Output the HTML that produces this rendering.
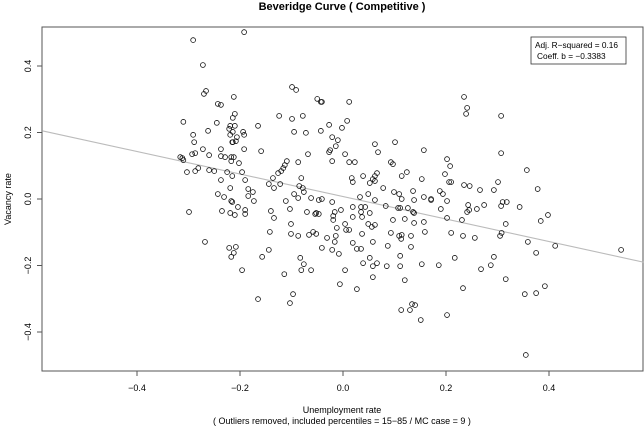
<!DOCTYPE html>
<html><head><meta charset="utf-8"><style>
html,body{margin:0;padding:0;background:#fff}
svg{display:block;font-family:"Liberation Sans",Arial,sans-serif}
</style></head><body>
<svg id="chart" width="644" height="427" viewBox="0 0 644 427">
<text x="342" y="10" text-anchor="middle" font-size="11" font-weight="bold">Beveridge Curve ( Competitive )</text>
<rect x="42" y="27" width="601" height="344" fill="none" stroke="#555" stroke-width="1"/>
<g id="xticks"></g>
<g id="yticks"></g>
<line id="reg" stroke="#bbb" stroke-width="1.1"/>
<g id="pts"></g>
<g>
<rect x="531" y="37" width="95" height="27" fill="#fff" stroke="#333" stroke-width="0.8"/>
<text x="535" y="48" font-size="8.3">Adj. R−squared = 0.16</text>
<text x="537" y="59" font-size="8.3">Coeff. b = −0.3383</text>
</g>
<text transform="translate(11,199) rotate(-90)" text-anchor="middle" font-size="9">Vacancy rate</text>
<text x="342" y="413" text-anchor="middle" font-size="9">Unemployment rate</text>
<text x="342" y="424" text-anchor="middle" font-size="9">( Outliers removed, included percentiles = 15−85 / MC case = 9 )</text>
</svg>
<script>
const xTicks=[-0.4,-0.2,0.0,0.2,0.4];
const xTickLabels=["−0.4","−0.2","0.0","0.2","0.4"];
const yTicks=[-0.4,-0.2,0.0,0.2,0.4];
const yTickLabels=["−0.4","−0.2","0.0","0.2","0.4"];
const regIntercept=0.0074;
const regSlope=-0.3383;
const xVals=[-0.291,-0.192,-0.272,-0.270,-0.266,-0.243,-0.237,-0.212,-0.210,-0.214,-0.219,-0.221,-0.210,-0.206,-0.214,-0.192,-0.194,-0.215,-0.214,-0.208,-0.219,-0.245,-0.262,-0.310,-0.291,-0.289,-0.293,-0.287,-0.272,-0.260,-0.316,-0.312,-0.310,-0.303,-0.287,-0.281,-0.260,-0.250,-0.237,-0.237,-0.229,-0.217,-0.212,-0.217,-0.202,-0.192,-0.225,-0.196,-0.215,-0.237,-0.190,-0.219,-0.184,-0.175,-0.184,-0.243,-0.231,-0.217,-0.204,-0.190,-0.173,-0.235,-0.219,-0.165,-0.159,-0.124,-0.099,-0.091,-0.099,-0.095,-0.078,-0.072,-0.050,-0.043,-0.043,-0.027,-0.068,-0.087,-0.109,-0.113,-0.116,-0.120,-0.126,-0.136,-0.144,-0.134,-0.122,-0.081,-0.085,-0.078,-0.076,-0.095,-0.087,-0.062,-0.047,-0.111,-0.103,-0.070,-0.052,-0.140,-0.299,-0.027,
0.235,0.241,0.239,0.307,0.012,-0.041,0.008,-0.002,-0.021,-0.010,-0.014,-0.025,-0.021,0.004,0.012,0.023,0.062,0.068,0.101,0.157,0.202,0.208,0.093,0.097,0.307,0.357,0.378,0.017,0.019,0.039,0.066,0.062,0.058,0.062,0.052,0.124,0.114,0.153,0.198,0.206,0.210,0.235,0.246,0.266,0.301,0.293,0.078,0.049,0.033,0.062,0.099,0.109,0.114,0.136,0.138,0.157,0.171,0.188,0.194,0.202,-0.041,-0.021,0.019,0.035,0.043,0.083,0.107,0.111,0.126,0.136,-0.016,-0.004,0.243,0.245,0.260,0.274,0.310,0.318,0.307,0.343,0.398,
-0.210,-0.190,-0.215,-0.134,-0.054,-0.047,-0.101,-0.142,-0.101,-0.087,-0.066,-0.058,-0.052,-0.031,-0.041,-0.268,-0.221,-0.208,-0.212,-0.217,-0.157,-0.144,-0.196,-0.083,-0.076,-0.081,-0.062,-0.114,-0.165,-0.097,-0.103,
-0.019,-0.019,0.035,0.037,0.052,0.019,0.004,0.006,0.012,-0.012,0.049,0.056,0.062,0.097,0.120,0.138,0.138,0.157,0.159,0.171,0.190,0.202,0.210,0.231,0.233,0.241,0.316,0.308,0.305,0.256,0.217,0.293,0.287,0.268,0.316,0.233,0.186,0.153,0.202,0.151,0.134,0.140,0.130,0.113,0.120,0.111,0.111,0.132,0.132,0.109,0.114,0.113,0.093,0.087,0.085,0.058,0.058,0.058,0.066,0.052,0.039,0.027,0.027,0.035,0.019,0.037,0.004,-0.006,-0.008,-0.021,-0.016,-0.014,0.359,0.375,0.384,0.412,0.540,0.353,0.375,0.392,0.355];
const yVals=[0.478,0.502,0.403,0.316,0.325,0.286,0.283,0.307,0.256,0.244,0.220,0.211,0.220,0.186,0.202,0.193,0.202,0.171,0.171,0.174,0.193,0.229,0.205,0.232,0.193,0.171,0.135,0.138,0.150,0.132,0.126,0.123,0.117,0.081,0.084,0.093,0.087,0.084,0.150,0.129,0.126,0.126,0.126,0.114,0.108,0.150,0.081,0.081,0.069,0.057,0.057,0.033,0.030,0.021,0.009,0.015,0.006,-0.006,-0.024,-0.033,-0.006,-0.036,-0.042,0.220,0.144,0.250,0.337,0.328,0.241,0.202,0.250,0.199,0.301,0.292,0.205,0.223,0.135,0.111,0.114,0.102,0.093,0.084,0.078,0.063,0.045,0.033,0.045,0.063,0.039,0.033,0.021,0.015,0.003,0.003,-0.003,-0.006,-0.030,-0.039,-0.042,-0.036,-0.039,0.141,
0.307,0.274,0.256,0.250,0.292,0.292,0.235,0.214,0.186,0.177,0.159,0.147,0.114,0.135,0.111,0.111,0.165,0.141,0.171,0.147,0.120,0.099,0.111,0.105,0.138,0.087,0.030,0.063,0.051,0.069,0.078,0.069,0.060,0.054,0.048,0.081,0.069,0.060,0.075,0.051,0.051,0.042,0.039,0.027,0.051,0.027,0.033,0.015,0.006,-0.003,0.021,0.015,0.000,0.024,-0.003,0.006,0.000,0.024,0.015,-0.006,0.000,-0.009,-0.024,-0.024,-0.024,-0.021,-0.027,-0.027,-0.027,-0.039,-0.039,-0.033,-0.018,-0.033,-0.030,-0.018,-0.009,-0.009,-0.021,-0.024,-0.048,
-0.048,-0.045,-0.009,-0.057,-0.045,-0.045,-0.075,-0.099,-0.105,-0.111,-0.108,-0.099,-0.105,-0.117,-0.147,-0.129,-0.147,-0.144,-0.162,-0.174,-0.174,-0.153,-0.214,-0.177,-0.196,-0.214,-0.214,-0.226,-0.301,-0.286,-0.313,
-0.051,-0.063,-0.039,-0.054,-0.042,-0.054,-0.075,-0.093,-0.093,-0.087,-0.075,-0.084,-0.078,-0.063,-0.060,-0.042,-0.072,-0.069,-0.099,-0.003,-0.030,-0.057,-0.102,-0.063,-0.111,-0.039,-0.075,-0.102,-0.111,-0.117,-0.177,-0.174,-0.199,-0.211,-0.241,-0.268,-0.199,-0.196,-0.349,-0.364,-0.316,-0.319,-0.334,-0.334,-0.244,-0.202,-0.171,-0.144,-0.111,-0.111,-0.108,-0.120,-0.102,-0.141,-0.202,-0.129,-0.235,-0.202,-0.193,-0.177,-0.193,-0.271,-0.150,-0.150,-0.132,-0.105,-0.214,-0.256,-0.165,-0.153,-0.129,-0.111,-0.129,-0.162,-0.066,-0.141,-0.153,-0.286,-0.283,-0.262,-0.469];

const X0=343, XS=515, Y0=199, YS=332.5, XMIN=-0.584, XMAX=0.583;
function sx(v){return X0+v*XS;}
function sy(v){return Y0-v*YS;}
const NS="http://www.w3.org/2000/svg";
function mk(tag,attrs,parent){const e=document.createElementNS(NS,tag);for(const k in attrs)e.setAttribute(k,attrs[k]);parent.appendChild(e);return e;}

const xg=document.getElementById('xticks');
xTicks.forEach((t,i)=>{
  const l=mk('line',{x1:sx(t),x2:sx(t),y1:371,y2:376,stroke:'#555','stroke-width':1},xg);
  
  
  const tx=mk('text',{x:sx(t),y:391,'text-anchor':'middle','font-size':9},xg);
  tx.textContent=xTickLabels[i];
  
  
});
const yg=document.getElementById('yticks');
yTicks.forEach((t,i)=>{
  const l=mk('line',{x1:37,x2:42,y1:sy(t),y2:sy(t),stroke:'#555','stroke-width':1},yg);
  
  
  const tx=mk('text',{transform:`translate(31,${sy(t)}) rotate(-90)`,'text-anchor':'middle','font-size':9},yg);
  tx.textContent=yTickLabels[i];
  
  
});
const reg=document.getElementById('reg');
reg.setAttribute('x1',sx(XMIN));reg.setAttribute('y1',sy(regIntercept+regSlope*XMIN));
reg.setAttribute('x2',sx(XMAX));reg.setAttribute('y2',sy(regIntercept+regSlope*XMAX));
const pg=document.getElementById('pts');
const n=Math.min(xVals.length,yVals.length);
for(let i=0;i<n;i++){
  const c=mk('circle',{cx:sx(xVals[i]),cy:sy(yVals[i]),r:2.4,fill:'none',stroke:'#111','stroke-width':0.8},pg);
  
  
}
</script>
</body></html>
